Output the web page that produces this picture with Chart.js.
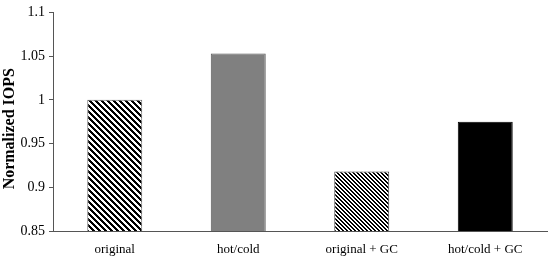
<!DOCTYPE html>
<html><head><meta charset="utf-8">
<script src="https://cdn.jsdelivr.net/npm/chart.js@4"></script>
<style>html,body{margin:0;padding:0;background:#fff}#w{width:550px;height:258px}</style>
</head><body><div id="w"><canvas id="c" width="550" height="258"></canvas></div>
<script>
const categories = ['original', 'hot/cold', 'original + GC', 'hot/cold + GC'];
const iops = [1.0, 1.053, 0.918, 0.975];
const yTicks = [0.85, 0.9, 0.95, 1, 1.05, 1.1];
const yTitle = 'Normalized IOPS';

function stripes(p, w) {
  const t = document.createElement('canvas');
  t.width = p; t.height = p;
  const g = t.getContext('2d');
  const img = g.createImageData(p, p);
  for (let y = 0; y < p; y++) for (let x = 0; x < p; x++) {
    const k = (((x - y) % p) + p) % p;
    const v = k < w ? 0 : 255;
    const i = (y * p + x) * 4;
    img.data[i] = img.data[i+1] = img.data[i+2] = v; img.data[i+3] = 255;
  }
  g.putImageData(img, 0, 0);
  return g.createPattern(t, 'repeat');
}
const ctx = document.getElementById('c').getContext('2d');
const fills = [stripes(6, 3), '#808080', stripes(4, 2), '#000000'];
const borders = ['#666666', '#555555', '#444444', '#000000'];

// draws the y-axis title slightly below the chart-area centre, as in the reference
const yTitlePlugin = {
  id: 'yTitle',
  afterDraw(chart) {
    const c = chart.ctx;
    c.save();
    c.translate(10, chart.chartArea.top + (chart.chartArea.bottom - chart.chartArea.top) / 2 + 7);
    c.rotate(-Math.PI / 2);
    c.font = 'bold 16px "Liberation Serif"';
    c.fillStyle = '#000';
    c.textAlign = 'center';
    c.textBaseline = 'middle';
    c.fillText(yTitle, 0, 0);
    c.restore();
  }
};

new Chart(ctx, {
  type: 'bar',
  data: { labels: categories, datasets: [{ data: iops, backgroundColor: fills, borderColor: borders, borderWidth: 1, barPercentage: 0.445, categoryPercentage: 1 }] },
  plugins: [yTitlePlugin],
  options: {
    responsive: false, animation: false,
    layout: { padding: { top: 4, right: 3, left: 0, bottom: 0 } },
    plugins: { legend: { display: false }, tooltip: { enabled: false } },
    scales: {
      x: {
        grid: { display: false, drawTicks: false },
        border: { color: '#555', width: 1 },
        ticks: { color: '#000', font: { family: 'Liberation Serif', size: 13 }, padding: 11 },
        afterFit(s) { s.height = 27; }
      },
      y: {
        min: 0.85, max: 1.1,
        afterBuildTicks(s) { s.ticks = yTicks.map(v => ({ value: v })); },
        grid: { display: true, drawOnChartArea: false, drawTicks: true, tickLength: 4, tickColor: '#555' },
        border: { color: '#555', width: 1 },
        ticks: { color: '#000', font: { family: 'Liberation Serif', size: 14 }, padding: 4,
          callback: v => String(v) },
        afterFit(s) { s.width = 53; }
      }
    }
  }
});
</script></body></html>
